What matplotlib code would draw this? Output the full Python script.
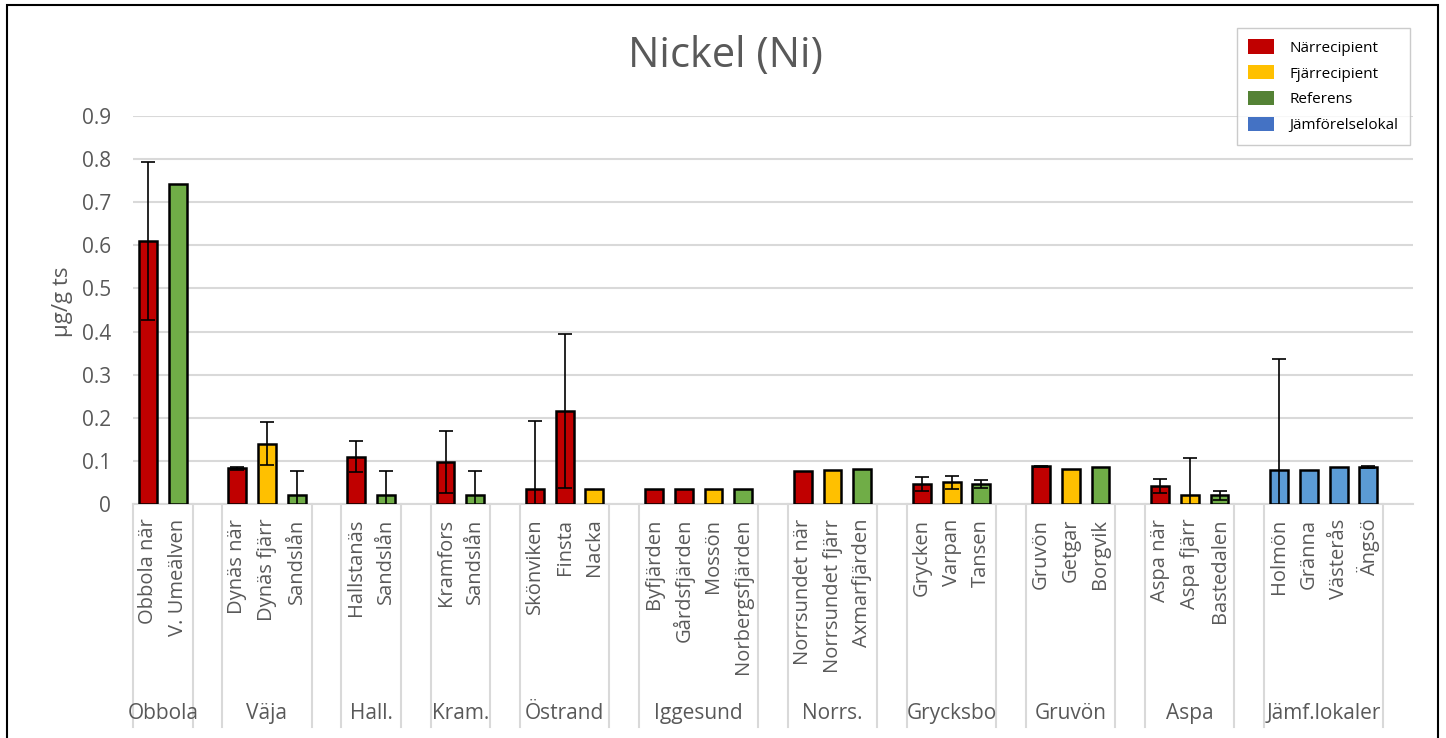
import numpy as np
import matplotlib.pyplot as plt
from matplotlib.patches import Patch, Rectangle

plt.rcParams['font.family'] = ['Open Sans', 'DejaVu Sans']

groups = ["Obbola", "Väja", "Hall.", "Kram.", "Östrand", "Iggesund",
          "Norrs.", "Grycksbo", "Gruvön", "Aspa", "Jämf.lokaler"]
sites = [
    ["Obbola när", "V. Umeälven"],
    ["Dynäs när", "Dynäs fjärr", "Sandslån"],
    ["Hallstanäs", "Sandslån"],
    ["Kramfors", "Sandslån"],
    ["Skönviken", "Finsta", "Nacka"],
    ["Byfjärden", "Gårdsfjärden", "Mossön", "Norbergsfjärden"],
    ["Norrsundet när", "Norrsundet fjärr", "Axmarfjärden"],
    ["Grycken", "Varpan", "Tansen"],
    ["Gruvön", "Getgar", "Borgvik"],
    ["Aspa när", "Aspa fjärr", "Bastedalen"],
    ["Holmön", "Gränna", "Västerås", "Ängsö"],
]
kinds = [
    ["N", "R"],
    ["N", "F", "R"],
    ["N", "R"],
    ["N", "R"],
    ["N", "N", "F"],
    ["N", "N", "F", "R"],
    ["N", "F", "R"],
    ["N", "F", "R"],
    ["N", "F", "R"],
    ["N", "F", "R"],
    ["J", "J", "J", "J"],
]
values = [
    [0.610, 0.743],
    [0.083, 0.140, 0.020],
    [0.110, 0.020],
    [0.098, 0.020],
    [0.035, 0.216, 0.035],
    [0.035, 0.035, 0.035, 0.035],
    [0.077, 0.080, 0.081],
    [0.046, 0.050, 0.047],
    [0.087, 0.082, 0.086],
    [0.042, 0.020, 0.020],
    [0.079, 0.080, 0.085, 0.086],
]
errors = [
    [0.183, 0.0],
    [0.003, 0.050, 0.056],
    [0.036, 0.056],
    [0.072, 0.056],
    [0.158, 0.179, 0.0],
    [0.0, 0.0, 0.0, 0.0],
    [0.0, 0.0, 0.0],
    [0.017, 0.016, 0.009],
    [0.002, 0.0, 0.0],
    [0.017, 0.086, 0.011],
    [0.257, 0.0, 0.0, 0.002],
]

bar_colors = {"N": "#C00000", "F": "#FFC000", "R": "#70AD47", "J": "#5B9BD5"}
legend_items = [("Närrecipient", "#C00000"), ("Fjärrecipient", "#FFC000"),
                ("Referens", "#548235"), ("Jämförelselokal", "#4472C4")]

W, H = 1446, 738
fig = plt.figure(figsize=(W / 100, H / 100), dpi=100)
ax = fig.add_axes([133 / W, (H - 504) / H, 1280 / W, 388 / H])

txt = "#595959"
grid = "#D9D9D9"

# slot positions, one empty slot between groups
pos, starts, ends = [], [], []
slot = 0
for g, names in enumerate(sites):
    starts.append(slot)
    pos.append(list(range(slot, slot + len(names))))
    slot += len(names)
    ends.append(slot - 1)
    slot += 1
nslots = slot - 1

trans = ax.get_xaxis_transform()
for g in range(len(groups)):
    for x, name, k, v, e in zip(pos[g], sites[g], kinds[g], values[g], errors[g]):
        ax.bar(x, v, width=0.6, color=bar_colors[k], edgecolor="black",
               linewidth=1.8, zorder=3)
        if e > 0:
            ax.errorbar(x, v, yerr=e, fmt="none", ecolor="black",
                        elinewidth=1.2, capsize=5, capthick=1.2, zorder=4)
        ax.text(x, -0.038, name, transform=trans, rotation=90,
                ha="center", va="top", fontsize=14.5, color=txt)
    mid = (starts[g] + ends[g]) / 2
    ax.text(mid, -0.539, groups[g], transform=trans,
            ha="center", va="center", fontsize=15, color=txt)

# group separators below the axis
edges = [-0.5]
for g in range(len(groups)):
    edges.append(ends[g] + 0.5)
    if g < len(groups) - 1:
        edges.append(ends[g] + 1.5)
for xe in edges:
    ax.plot([xe, xe], [0, -0.575], transform=trans, color=grid,
            linewidth=1.5, clip_on=False, zorder=1)

ax.set_xlim(-0.5, nslots + 0.5)
ax.set_ylim(0, 0.9)
ax.set_yticks(np.arange(0, 0.91, 0.1))
ax.set_yticklabels(["0"] + [f"{t:.1f}" for t in np.arange(0.1, 0.91, 0.1)])
ax.set_xticks([])
ax.tick_params(axis="y", length=0, labelsize=15, labelcolor=txt, pad=16)
ax.yaxis.grid(True, color=grid, linewidth=1.5, zorder=0)
ax.set_axisbelow(True)
for s in ["top", "right", "left"]:
    ax.spines[s].set_visible(False)
ax.spines["bottom"].set_color(grid)
ax.spines["bottom"].set_linewidth(1.5)

ax.set_ylabel("µg/g ts", fontsize=16, color=txt)
ax.yaxis.set_label_coords((73 - 133) / 1280, 0.52)

fig.text(725 / W, 1 - 56 / H, "Nickel (Ni)", ha="center", va="center",
         fontsize=30, color=txt)

handles = [Patch(facecolor=c, edgecolor="none", label=l) for l, c in legend_items]
leg = fig.legend(handles=handles, loc="upper left",
                 bbox_to_anchor=(1237 / W, 1 - 28 / H), fontsize=11,
                 frameon=True, fancybox=False, handlelength=1.7,
                 handleheight=1.05, labelspacing=0.62, borderpad=0.75,
                 handletextpad=1.0, borderaxespad=0)
leg.get_frame().set_edgecolor("#BFBFBF")
leg.get_frame().set_linewidth(1.0)

# outer chart frame
fig.add_artist(Rectangle((7 / W, -0.05), (1438 - 7) / W, 1.05 - 5 / H,
                         transform=fig.transFigure, fill=False,
                         edgecolor="black", linewidth=1.5))

fig.savefig("out.png", dpi=100)
